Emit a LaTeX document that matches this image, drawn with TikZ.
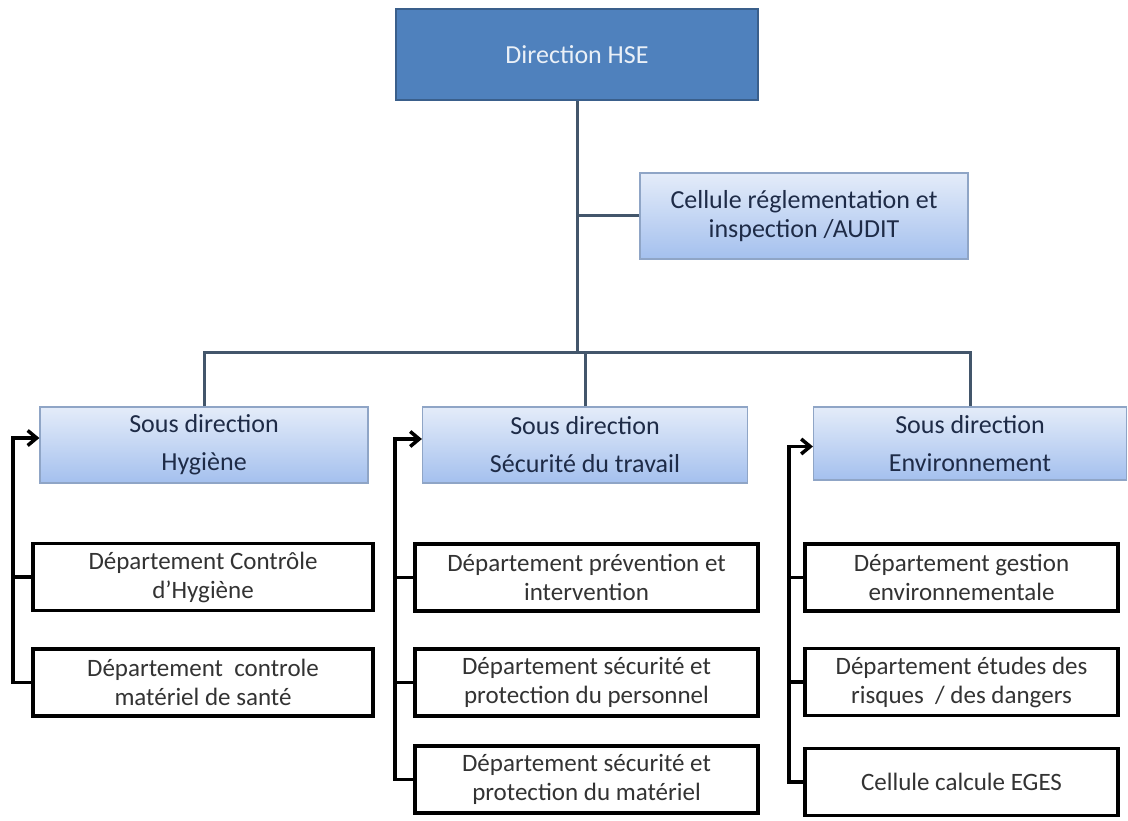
\documentclass[tikz,border=0pt]{standalone}
\usepackage{fontspec}
\setmainfont{Carlito}
\usetikzlibrary{arrows.meta}

\definecolor{hseblue}{HTML}{4F81BD}
\definecolor{hseedge}{HTML}{3A5F8B}
\definecolor{lighttop}{HTML}{E4ECF9}
\definecolor{lightbot}{HTML}{A4C0EE}
\definecolor{lightedge}{HTML}{8FA5C6}
\definecolor{linkgray}{HTML}{43566B}
\definecolor{navytext}{HTML}{1E2B47}

\tikzset{
  headbox/.style={draw=hseedge, line width=2pt, fill=hseblue, text=white!88!hseblue,
    minimum width=362pt, minimum height=91pt, inner sep=0pt, font=\fontsize{26}{30}\selectfont},
  subbox/.style={draw=lightedge, line width=1.2pt, top color=lighttop, bottom color=lightbot,
    text=navytext, inner sep=0pt, align=center, font=\fontsize{26}{38}\selectfont},
  deptbox/.style={draw=black, line width=3.5pt, fill=white, text=black!80,
    minimum height=67pt, inner sep=0pt, align=center, font=\fontsize{25}{29}\selectfont},
  toplink/.style={draw=linkgray, line width=3pt},
  armline/.style={draw=black, line width=3.5pt},
  armtip/.style={-{Straight Barb[length=9pt,width=15pt]}}
}

\begin{document}
\begin{tikzpicture}[x=1pt, y=-1pt]
  \path[use as bounding box, fill=white] (0,0) rectangle (1128,821);

  % direction and cellule
  \node[headbox] (dir) at (577,54.5) {Direction HSE};
  \node[subbox, minimum width=328pt, minimum height=86pt, font=\fontsize{26}{29}\selectfont]
    (cell) at (804,216) {Cellule réglementation et\\inspection /AUDIT};

  % sous directions
  \node[subbox, minimum width=328pt, minimum height=76pt] (hyg) at (204,445) {Sous direction\\Hygiène};
  \node[subbox, minimum width=325pt, minimum height=76pt] (secu) at (585,445) {Sous direction\\Sécurité du travail};
  \node[subbox, minimum width=313pt, minimum height=73pt] (env) at (970,443.5) {Sous direction\\Environnement};

  % departements
  \node[deptbox, minimum width=340pt] (d11) at (203,577) {Département Contrôle\\d’Hygiène};
  \node[deptbox, minimum width=340pt] (d12) at (203,682.5) {Département \ controle\\matériel de santé};

  \node[deptbox, minimum width=343pt] (d21) at (586.5,577.5) {Département prévention et\\intervention};
  \node[deptbox, minimum width=343pt] (d22) at (586.5,682.5) {Département sécurité et\\protection du personnel};
  \node[deptbox, minimum width=343pt] (d23) at (586.5,779.5) {Département sécurité et\\protection du matériel};

  \node[deptbox, minimum width=313pt] (d31) at (961.5,577.5) {Département gestion\\environnementale};
  \node[deptbox, minimum width=313pt] (d32) at (961.5,682) {Département études des\\risques \ / des dangers};
  \node[deptbox, minimum width=313pt] (d33) at (961.5,782) {Cellule calcule EGES};

  % top links
  \coordinate (bar) at (577,352);
  \draw[toplink] (dir.south) -- (bar);
  \draw[toplink] (cell.west) -- (cell.west -| dir.south);
  \draw[toplink] (hyg.north) |- (bar) -| (env.north);
  \draw[toplink] (secu.north) -- (secu.north |- bar);

  % spines
  \coordinate (lspine) at (13,0);
  \coordinate (mspine) at (395,0);
  \coordinate (rspine) at (789,0);

  \draw[armline, armtip] (d12.west) -- (d12.west -| lspine) |- ([yshift=7pt]hyg.west);
  \draw[armline] (d11.west) -- (d11.west -| lspine);

  \draw[armline, armtip] (d23.west) -- (d23.west -| mspine) |- ([yshift=6pt]secu.west);
  \foreach \d in {d21,d22}
    \draw[armline] (\d.west) -- (\d.west -| mspine);

  \draw[armline, armtip] (d33.west) -- (d33.west -| rspine) |- ([yshift=-3pt]env.west);
  \foreach \d in {d31,d32}
    \draw[armline] (\d.west) -- (\d.west -| rspine);
\end{tikzpicture}
\end{document}
